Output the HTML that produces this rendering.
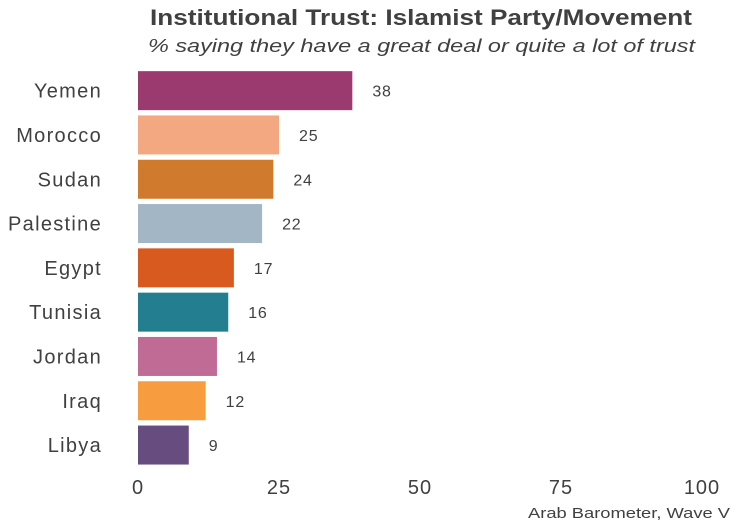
<!DOCTYPE html>
<html><head><meta charset="utf-8"><style>
html,body{margin:0;padding:0;background:#fff;}
svg{display:block;font-family:"Liberation Sans",sans-serif;}
</style></head><body>
<svg id="chart" width="740" height="529" viewBox="0 0 740 529">
<text x="150" y="25" textLength="542" lengthAdjust="spacingAndGlyphs" font-size="22" font-weight="bold" fill="#404040">Institutional Trust: Islamist Party/Movement</text>
<text x="148" y="52" textLength="547" lengthAdjust="spacingAndGlyphs" font-size="18" font-style="italic" fill="#404040">% saying they have a great deal or quite a lot of trust</text>
<g id="bars"></g>
<g id="xaxis"></g>
<text x="528" y="518" textLength="202" lengthAdjust="spacingAndGlyphs" font-size="15" fill="#404040">Arab Barometer, Wave V</text>
</svg>
<script>
const categories = ["Yemen","Morocco","Sudan","Palestine","Egypt","Tunisia","Jordan","Iraq","Libya"];
const values = [38,25,24,22,17,16,14,12,9];
const colors = ["#9b3a6e","#f3a882","#cf7a2c","#a2b6c5","#d95a1f","#237f8f","#c06a96","#f89c40","#674c7f"];
const ticks = [0,25,50,75,100];
const ns="http://www.w3.org/2000/svg";
const x0=138, x1=702;
function xs(v){return x0+(x1-x0)*v/100;}
const yTop=68.5, band=44.3;
function yc(i){return yTop+band*i+band/2;}
const bars=document.getElementById('bars');
categories.forEach((c,i)=>{
  const r=document.createElementNS(ns,'rect');
  r.setAttribute('x',xs(0));r.setAttribute('y',yc(i)-19.5);
  r.setAttribute('width',xs(values[i])-xs(0));r.setAttribute('height',39);
  r.setAttribute('fill',colors[i]);
  
  
  bars.appendChild(r);
  const l=document.createElementNS(ns,'text');
  l.setAttribute('x',102);l.setAttribute('y',yc(i)+7);
  l.setAttribute('text-anchor','end');l.setAttribute('font-size','20');l.setAttribute('fill','#404040');
  l.setAttribute('letter-spacing','1.3');
  l.textContent=c;
  
  
  bars.appendChild(l);
  const v=document.createElementNS(ns,'text');
  v.setAttribute('x',xs(values[i])+20);v.setAttribute('y',yc(i)+6);
  v.setAttribute('font-size','16');v.setAttribute('fill','#404040');
  v.setAttribute('letter-spacing','0.8');
  v.textContent=values[i];
  
  
  bars.appendChild(v);
});
const xa=document.getElementById('xaxis');
ticks.forEach(t=>{
  const tx=document.createElementNS(ns,'text');
  tx.setAttribute('x',xs(t));tx.setAttribute('y',494);
  tx.setAttribute('text-anchor','middle');tx.setAttribute('font-size','20');tx.setAttribute('fill','#404040');
  tx.setAttribute('letter-spacing','1');
  tx.textContent=t;
  
  
  xa.appendChild(tx);
});
</script>
</body></html>
